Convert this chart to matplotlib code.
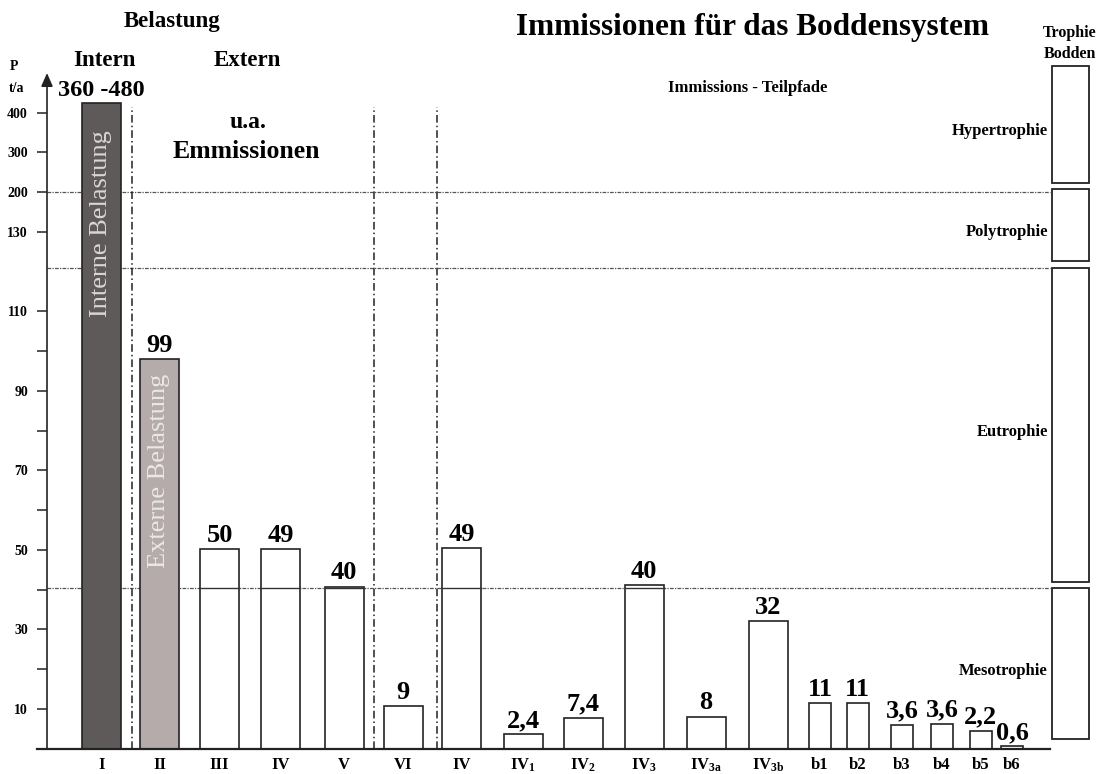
import numpy as np
import matplotlib
matplotlib.use("Agg")
import matplotlib.pyplot as plt
from matplotlib.patches import Rectangle

plt.rcParams['font.family'] = ['Liberation Serif', 'DejaVu Serif']
plt.rcParams['font.weight'] = 'bold'
plt.rcParams['mathtext.fontset'] = 'custom'
plt.rcParams['mathtext.rm'] = 'Liberation Serif:bold'
plt.rcParams['mathtext.it'] = 'Liberation Serif:bold'
plt.rcParams['mathtext.bf'] = 'Liberation Serif:bold'

# ---------------- data ----------------
categories = ['I', 'II', 'III', 'IV', 'V', 'VI', 'IV',
              r'IV$_{\mathrm{1}}$', r'IV$_{\mathrm{2}}$', r'IV$_{\mathrm{3}}$',
              r'IV$_{\mathrm{3a}}$', r'IV$_{\mathrm{3b}}$',
              'b1', 'b2', 'b3', 'b4', 'b5', 'b6']
bar_heights = [424, 98, 50.2, 50.2, 40.8, 10.8, 50.4, 3.7, 7.8, 41.2, 8.1, 32.1,
               11.4, 11.4, 6.0, 6.3, 4.5, 0.6]
value_labels = ['360 -480', '99', '50', '49', '40', '9', '49', '2,4', '7,4', '40',
                '8', '32', '11', '11', '3,6', '3,6', '2,2', '0,6']
bar_kind = ['intern', 'extern'] + ['path'] * 16

y_tick_values = [10, 30, 50, 70, 90, 110, 130, 200, 300, 400]
y_minor_values = [20, 40, 60, 80, 100]

trophy_names = ['Hypertrophie', 'Polytrophie', 'Eutrophie', 'Mesotrophie']
trophy_upper = [518, 208, 121, 40.4]
trophy_lower = [223, 122.6, 41.9, 2.4]
class_boundaries = [200, 121, 40.5]

# ---------------- layout ----------------
W, H = 1099, 774
x_pos = [101.5, 159.5, 219.5, 280.5, 344, 403, 461.5, 523, 583, 644, 706, 768.5,
         820, 857.5, 902, 942, 980.5, 1012]
widths = [39] * 12 + [22] * 6
colors = {'intern': '#5e5a5a', 'extern': '#b5abab', 'path': 'white'}
separators_x = [132, 374, 437]


def fwd(v):
    v = np.asarray(v, dtype=float)
    return np.where(v <= 130, v,
                    np.where(v <= 200, 130 + (v - 130) / 7.0, 140 + (v - 200) / 10.0))


def inv(f):
    f = np.asarray(f, dtype=float)
    return np.where(f <= 130, f,
                    np.where(f <= 140, 130 + (f - 130) * 7.0, 200 + (f - 140) * 10.0))


fig = plt.figure(figsize=(W / 100, H / 100), dpi=100)
y0_px, ytop_px, x0_px = 748.7, 73, 47
ax = fig.add_axes([x0_px / W, (H - y0_px) / H, (W - x0_px) / W, (y0_px - ytop_px) / H])
ax.set_yscale('function', functions=(fwd, inv))
ax.set_xlim(x0_px, W)
ax.set_ylim(0, 500)
for s in ax.spines.values():
    s.set_visible(False)

# y axis with arrow
ax.annotate('', xy=(0, 1.0), xytext=(0, 0), xycoords='axes fraction',
            arrowprops=dict(arrowstyle='-|>,head_width=0.35,head_length=0.8',
                            color='#222222', lw=1.2, shrinkA=0, shrinkB=0))
# baseline
ax.plot([37, 1050], [0, 0], color='#222222', lw=1.6, clip_on=False, zorder=5)

ax.set_yticks(y_tick_values)
ax.set_yticklabels([str(v) for v in y_tick_values], fontsize=10, fontweight='bold')
ax.set_yticks(y_minor_values, minor=True)
ax.tick_params(axis='y', which='both', length=7.2, width=1.1, color='#222222', pad=6.5)

ax.set_xticks(x_pos)
ax.set_xticklabels(categories, fontsize=12, fontweight='bold')
ax.tick_params(axis='x', length=0, pad=6)

# class boundary lines (dotted)
for b in class_boundaries:
    ax.plot([x0_px, 1050], [b, b], color='#555555', lw=0.9,
            linestyle=(0, (3, 1, 1, 1)), zorder=1)

# separators
for sx in separators_x:
    ax.plot([sx, sx], [0, 414], color='#222222', lw=1.1,
            linestyle=(0, (5, 2, 1, 2)), zorder=1, clip_on=False)

# bars
for x, w, h, k, lab in zip(x_pos, widths, bar_heights, bar_kind, value_labels):
    ax.bar(x, h, width=w, color=colors[k], edgecolor='#222222', linewidth=1.2, zorder=3)
    if k == 'path':
        for b in class_boundaries:
            if b < h:
                ax.plot([x - w / 2, x + w / 2], [b, b], color='#333333', lw=1.0, zorder=4)
    fs = 17.5 if len(lab) > 4 else 19
    ax.annotate(lab, (x, h), xytext=(0, 1.5), textcoords='offset points',
                ha='center', va='bottom', fontsize=fs, fontweight='bold', zorder=6)

# rotated texts in bars
ax.text(x_pos[0], 144, 'Interne Belastung',
        rotation=90, ha='center', va='center', color='#d8d6d6', fontsize=19,
        fontweight='normal', zorder=5)
ax.text(x_pos[1], 70, 'Externe Belastung', rotation=90, ha='center', va='center',
        color='#ebe7e7', fontsize=19, fontweight='normal', zorder=5)

# trophy boxes
for name, hi, lo in zip(trophy_names, trophy_upper, trophy_lower):
    ax.add_patch(Rectangle((1052, lo), 37, hi - lo, facecolor='white',
                           edgecolor='#222222', lw=1.3, clip_on=False, zorder=3))
    mid = float(inv((fwd(hi) + fwd(lo)) / 2))
    ax.annotate(name, (1048, mid), xytext=(0, -5), textcoords='offset points',
                ha='right', va='center', fontsize=12, fontweight='bold')


def px(x, y):
    return x / W, 1 - y / H


fig.text(*px(172, 22), 'Belastung', ha='center', va='center', fontsize=16.5)
fig.text(*px(104, 60), 'Intern', ha='center', va='center', fontsize=16.5)
fig.text(*px(247, 60), 'Extern', ha='center', va='center', fontsize=16.5)
fig.text(*px(248, 123), 'u.a.', ha='center', va='center', fontsize=17)
fig.text(*px(246, 152), 'Emmissionen', ha='center', va='center', fontsize=18.5)
fig.text(*px(752, 28), 'Immissionen für das Boddensystem', ha='center', va='center',
         fontsize=22.5)
fig.text(*px(748, 88), 'Immissions - Teilpfade', ha='center', va='center', fontsize=12)
fig.text(*px(1070, 33), 'Trophie', ha='center', va='center', fontsize=11.5)
fig.text(*px(1070, 54), 'Bodden', ha='center', va='center', fontsize=11.5)
fig.text(*px(14, 67), 'P', ha='center', va='center', fontsize=10)
fig.text(*px(17, 89), 't/a', ha='center', va='center', fontsize=10)

fig.savefig('out.png', dpi=100)
